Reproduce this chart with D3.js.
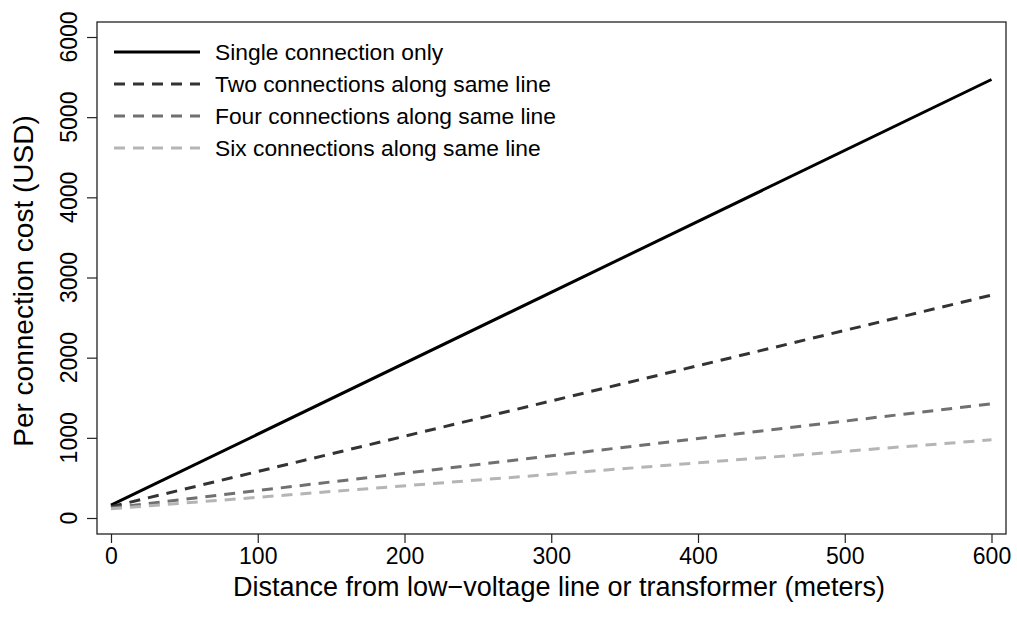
<!DOCTYPE html>
<html>
<head>
<meta charset="utf-8">
<script src="https://cdn.jsdelivr.net/npm/d3@7"></script>
<style>
  body { margin: 0; background: #fff; }
  svg { display: block; font-family: "Liberation Sans", Arial, sans-serif; }
</style>
</head>
<body>
<div id="chart"></div>
<script>
'use strict';

// Data (linear cost per connection vs distance)
const distances = [0, 600];
const seriesNames = [
  'Single connection only',
  'Two connections along same line',
  'Four connections along same line',
  'Six connections along same line'
];
const singleCost = [160, 5470];
const twoCost = [140, 2780];
const fourCost = [125, 1425];
const sixCost = [115, 975];
const xTicks = [0, 100, 200, 300, 400, 500, 600];
const yTicks = [0, 1000, 2000, 3000, 4000, 5000, 6000];

const seriesValues = [singleCost, twoCost, fourCost, sixCost];
const seriesColors = ['#000000', '#333333', '#707070', '#b5b5b5'];
const seriesDash = [null, '11,8', '11,8', '11,8'];

const W = 1017, H = 618;
const box = {left: 97, right: 1006, top: 22, bottom: 534};

const svg = d3.select('#chart')
  .append('svg')
  .attr('width', W)
  .attr('height', H);

const xScale = d3.scaleLinear().domain([0, 600]).range([111, 991.5]);
const yScale = d3.scaleLinear().domain([0, 6000]).range([518, 37]);

// plot box
svg.append('rect')
  .attr('x', box.left)
  .attr('y', box.top)
  .attr('width', box.right - box.left)
  .attr('height', box.bottom - box.top)
  .attr('fill', 'none')
  .attr('stroke', '#222')
  .attr('stroke-width', 1.3);

// x axis
const xAxis = svg.append('g')
  .attr('transform', `translate(0,${box.bottom})`)
  .call(d3.axisBottom(xScale).tickValues(xTicks).tickSize(9).tickPadding(5).tickSizeOuter(0))
  .call(g => g.select('.domain').remove());
xAxis.selectAll('line').attr('stroke', '#222').attr('stroke-width', 1.2);
xAxis.selectAll('text').attr('font-size', 23).attr('font-family', '"Liberation Sans", Arial, sans-serif').attr('fill', '#000');

// y axis (labels rotated like base R)
const yAxis = svg.append('g')
  .attr('transform', `translate(${box.left},0)`)
  .call(d3.axisLeft(yScale).tickValues(yTicks).tickSize(10).tickFormat(() => '').tickSizeOuter(0))
  .call(g => g.select('.domain').remove());
yAxis.selectAll('line').attr('stroke', '#222').attr('stroke-width', 1.2);

svg.append('g')
  .selectAll('text')
  .data(yTicks)
  .join('text')
  .attr('transform', d => `translate(77,${yScale(d)}) rotate(-90)`)
  .attr('text-anchor', 'middle')
  .attr('font-size', 23)
  .attr('fill', '#000')
  .text(d => d);

// axis titles
svg.append('text')
  .attr('x', 559)
  .attr('y', 596)
  .attr('text-anchor', 'middle')
  .attr('font-size', 27)
  .attr('fill', '#000')
  .text('Distance from low\u2212voltage line or transformer (meters)');

svg.append('text')
  .attr('transform', `translate(33,281) rotate(-90)`)
  .attr('text-anchor', 'middle')
  .attr('font-size', 28)
  .attr('fill', '#000')
  .text('Per connection cost (USD)');

// lines
const line = d3.line()
  .x(d => xScale(d[0]))
  .y(d => yScale(d[1]));

seriesValues.forEach((vals, i) => {
  svg.append('path')
    .datum(distances.map((x, j) => [x, vals[j]]))
    .attr('d', line)
    .attr('fill', 'none')
    .attr('stroke', seriesColors[i])
    .attr('stroke-width', 3)
    .attr('stroke-dasharray', seriesDash[i]);
});

// legend
const legend = svg.append('g');
seriesNames.forEach((name, i) => {
  const y = 52 + i * 32;
  legend.append('line')
    .attr('x1', 114).attr('x2', 200)
    .attr('y1', y).attr('y2', y)
    .attr('stroke', seriesColors[i])
    .attr('stroke-width', 3)
    .attr('stroke-dasharray', seriesDash[i]);
  legend.append('text')
    .attr('x', 215)
    .attr('y', y)
    .attr('dy', '0.35em')
    .attr('font-size', 22.8)
    .attr('fill', '#000')
    .text(name);
});
</script>
</body>
</html>
